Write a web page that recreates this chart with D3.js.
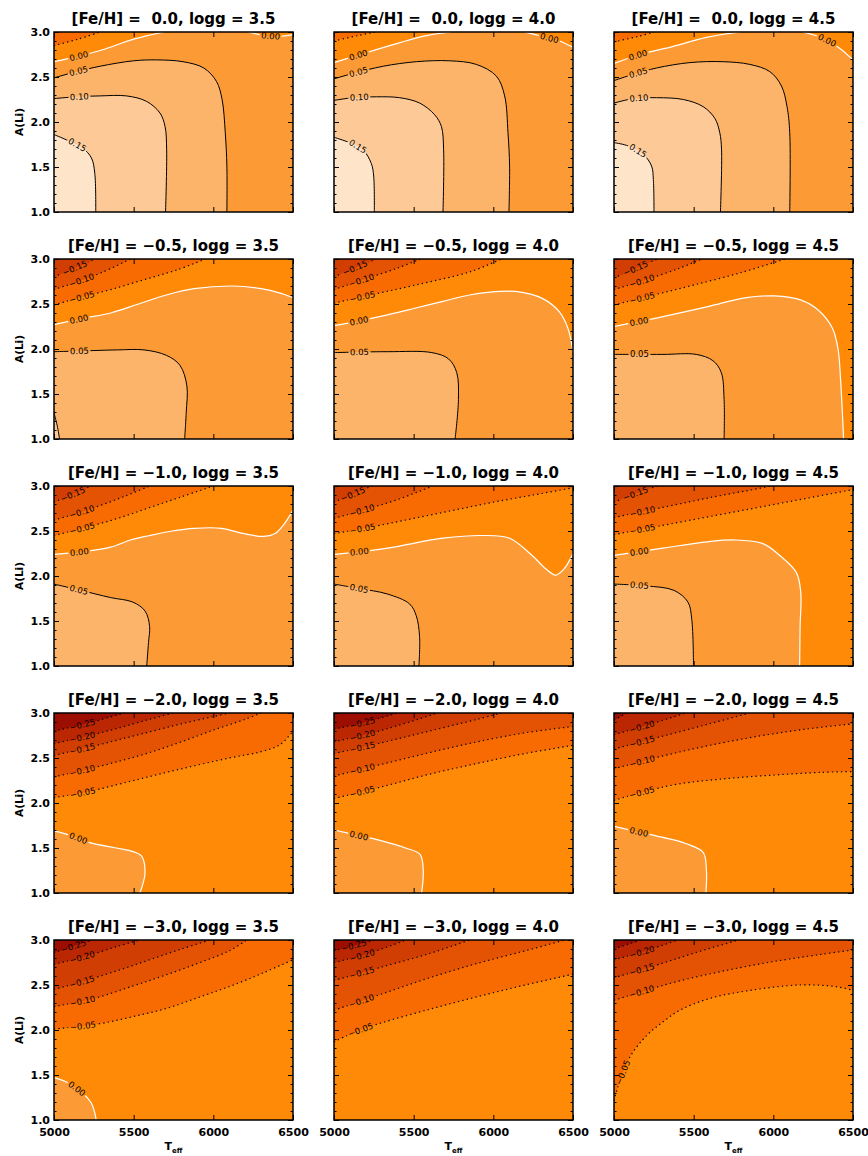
<!DOCTYPE html>
<html>
<head>
<meta charset="utf-8">
<script src="https://cdn.jsdelivr.net/npm/d3@7"></script>
<style>
  body { margin: 0; background: #fff; }
  svg { display: block; }
  text { font-family: "DejaVu Sans", sans-serif; fill: #000; }
</style>
</head>
<body>
<svg id="chart" width="868" height="1156"></svg>
<script>
// ---- grid of models ----
const fehValues  = [0.0, -0.5, -1.0, -2.0, -3.0];
const loggValues = [3.5, 4.0, 4.5];

// ---- axes ----
const teffTicks = [5000, 5500, 6000, 6500];
const aliTicks  = [1.0, 1.5, 2.0, 2.5, 3.0];
const aliMinorTicks = [1.1, 1.2, 1.3, 1.4, 1.6, 1.7, 1.8, 1.9, 2.1, 2.2, 2.3, 2.4, 2.6, 2.7, 2.8, 2.9];

// ---- filled contour bands (lower bound of each band) and colours ----
const bandLower  = [-0.30, -0.25, -0.20, -0.15, -0.10, -0.05, 0.00, 0.05, 0.10, 0.15];
const bandColors = ['#9c0d02', '#bb2603', '#d13e03', '#e35303', '#f76b02', '#fe8a08', '#fc9b36', '#fcb46b', '#fdca97', '#fee4c9'];

// band containing the (Teff = 6500, A(Li) = 1.0) corner of each panel, rows = [Fe/H], cols = logg
const cornerBand = [
  [0.00, 0.00, 0.00],
  [0.00, 0.00, -0.05],
  [0.00, 0.00, -0.05],
  [-0.05, -0.05, -0.05],
  [-0.05, -0.05, -0.05]
];

// ---- contour lines: level and [Teff, A(Li)] vertices ----
const lines_feh00_g35 = [
  { lev: -0.05, lab: false, pts: [[5000, 2.85], [5150, 2.92], [5290, 3.0]] },
  { lev: 0.00, pts: [[5000, 2.67], [5150, 2.73], [5300, 2.80], [5500, 2.92], [5690, 3.0]] },
  { lev: 0.00, pts: [[6220, 3.0], [6330, 2.96], [6430, 2.955], [6500, 2.97]] },
  { lev: 0.05, pts: [[5000, 2.49], [5120, 2.55], [5290, 2.62], [5500, 2.68], [5645, 2.69], [5810, 2.67], [5940, 2.60], [6020, 2.45], [6055, 2.25], [6075, 1.88], [6085, 1.51], [6085, 1.0]] },
  { lev: 0.10, pts: [[5000, 2.26], [5140, 2.28], [5290, 2.29], [5455, 2.29], [5580, 2.23], [5665, 2.10], [5697, 1.95], [5707, 1.69], [5700, 1.0]] },
  { lev: 0.15, pts: [[5000, 1.86], [5080, 1.80], [5180, 1.71], [5235, 1.60], [5256, 1.43], [5262, 1.0]] }
];
const lines_feh00_g40 = [
  { lev: -0.05, lab: false, pts: [[5000, 2.90], [5150, 2.96], [5260, 3.0]] },
  { lev: 0.00, pts: [[5000, 2.66], [5200, 2.77], [5410, 2.88], [5580, 2.96], [5736, 3.0]] },
  { lev: 0.00, pts: [[6197, 3.0], [6310, 2.95], [6416, 2.90], [6500, 2.83]] },
  { lev: 0.05, pts: [[5000, 2.48], [5120, 2.54], [5310, 2.62], [5517, 2.67], [5726, 2.68], [5893, 2.64], [6019, 2.51], [6071, 2.29], [6092, 1.88], [6102, 1.51], [6098, 1.0]] },
  { lev: 0.10, pts: [[5000, 2.24], [5120, 2.27], [5266, 2.28], [5412, 2.27], [5538, 2.21], [5632, 2.08], [5674, 1.95], [5688, 1.69], [5684, 1.0]] },
  { lev: 0.15, pts: [[5000, 1.83], [5098, 1.77], [5182, 1.69], [5234, 1.54], [5249, 1.40], [5253, 1.0]] }
];
const lines_feh00_g45 = [
  { lev: -0.05, lab: false, pts: [[5000, 2.89], [5150, 2.95], [5250, 3.0]] },
  { lev: 0.00, pts: [[5000, 2.65], [5163, 2.75], [5372, 2.84], [5581, 2.94], [5790, 3.0]] },
  { lev: 0.00, pts: [[6187, 3.0], [6312, 2.93], [6416, 2.82], [6500, 2.69]] },
  { lev: 0.05, pts: [[5000, 2.46], [5121, 2.53], [5267, 2.60], [5476, 2.66], [5685, 2.67], [5852, 2.64], [5978, 2.56], [6051, 2.40], [6086, 2.17], [6103, 1.88], [6103, 1.0]] },
  { lev: 0.10, pts: [[5000, 2.21], [5121, 2.26], [5267, 2.27], [5435, 2.25], [5560, 2.17], [5633, 2.04], [5664, 1.88], [5675, 1.69], [5668, 1.0]] },
  { lev: 0.15, pts: [[5000, 1.77], [5079, 1.74], [5184, 1.64], [5236, 1.51], [5247, 1.36], [5251, 1.0]] }
];

const lines_feh05_g35 = [
  { lev: -0.15, pts: [[5000, 2.80], [5130, 2.90], [5260, 3.0]] },
  { lev: -0.10, pts: [[5000, 2.66], [5150, 2.75], [5300, 2.85], [5480, 3.0]] },
  { lev: -0.05, pts: [[5000, 2.49], [5180, 2.58], [5356, 2.66], [5565, 2.77], [5774, 2.88], [5950, 3.0]] },
  { lev: 0.00, pts: [[5000, 2.27], [5180, 2.34], [5356, 2.40], [5530, 2.50], [5705, 2.60], [5880, 2.67], [6120, 2.70], [6300, 2.67], [6420, 2.62], [6500, 2.57]] },
  { lev: 0.05, pts: [[5000, 1.97], [5200, 1.98], [5400, 1.99], [5565, 1.99], [5705, 1.93], [5790, 1.82], [5834, 1.59], [5830, 1.30], [5820, 1.0]] },
  { lev: 0.10, lab: false, pts: [[5000, 1.29], [5020, 1.15], [5035, 1.0]] }
];
const lines_feh05_g40 = [
  { lev: -0.15, pts: [[5000, 2.80], [5130, 2.90], [5265, 3.0]] },
  { lev: -0.10, pts: [[5000, 2.66], [5200, 2.78], [5400, 2.90], [5544, 3.0]] },
  { lev: -0.05, pts: [[5000, 2.51], [5230, 2.60], [5509, 2.71], [5858, 2.86], [6050, 3.0]] },
  { lev: 0.00, pts: [[5000, 2.26], [5150, 2.31], [5335, 2.38], [5500, 2.45], [5684, 2.53], [5850, 2.60], [5963, 2.63], [6140, 2.64], [6310, 2.56], [6416, 2.41], [6468, 2.23], [6500, 1.97]] },
  { lev: 0.05, pts: [[5000, 1.96], [5335, 1.97], [5614, 1.96], [5719, 1.89], [5770, 1.74], [5781, 1.44], [5760, 1.0]] }
];
const lines_feh05_g45 = [
  { lev: -0.15, pts: [[5000, 2.79], [5140, 2.90], [5272, 3.0]] },
  { lev: -0.10, pts: [[5000, 2.66], [5200, 2.77], [5400, 2.89], [5551, 3.0]] },
  { lev: -0.05, pts: [[5000, 2.49], [5250, 2.60], [5500, 2.71], [5800, 2.85], [6074, 3.0]] },
  { lev: 0.00, pts: [[5000, 2.25], [5307, 2.36], [5586, 2.47], [5830, 2.57], [6004, 2.59], [6179, 2.54], [6283, 2.43], [6371, 2.23], [6406, 2.00], [6423, 1.63], [6441, 1.0]] },
  { lev: 0.05, pts: [[5000, 1.94], [5307, 1.94], [5516, 1.94], [5621, 1.87], [5673, 1.74], [5691, 1.44], [5691, 1.0]] }
];

const lines_feh10_g35 = [
  { lev: -0.15, pts: [[5000, 2.82], [5120, 2.91], [5234, 3.0]] },
  { lev: -0.10, pts: [[5000, 2.62], [5150, 2.70], [5300, 2.79], [5450, 2.89], [5600, 3.0]] },
  { lev: -0.05, pts: [[5000, 2.45], [5200, 2.54], [5400, 2.64], [5600, 2.76], [5800, 2.88], [6000, 3.0]] },
  { lev: 0.00, pts: [[5000, 2.24], [5180, 2.27], [5356, 2.32], [5480, 2.40], [5600, 2.45], [5740, 2.50], [5879, 2.53], [6053, 2.53], [6193, 2.47], [6315, 2.44], [6385, 2.47], [6437, 2.56], [6500, 2.73]] },
  { lev: 0.05, pts: [[5000, 1.91], [5146, 1.85], [5356, 1.76], [5495, 1.71], [5572, 1.61], [5600, 1.44], [5593, 1.26], [5582, 1.0]] }
];
const lines_feh10_g40 = [
  { lev: -0.15, pts: [[5000, 2.82], [5120, 2.91], [5237, 3.0]] },
  { lev: -0.10, pts: [[5000, 2.64], [5200, 2.74], [5400, 2.85], [5620, 3.0]] },
  { lev: -0.05, pts: [[5000, 2.47], [5250, 2.55], [5500, 2.64], [5750, 2.73], [6000, 2.82], [6250, 2.90], [6500, 2.98]] },
  { lev: 0.00, pts: [[5000, 2.24], [5335, 2.31], [5684, 2.42], [5928, 2.45], [6102, 2.42], [6242, 2.23], [6329, 2.08], [6390, 2.01], [6444, 2.08], [6500, 2.25]] },
  { lev: 0.05, pts: [[5000, 1.91], [5160, 1.86], [5335, 1.80], [5474, 1.69], [5516, 1.56], [5537, 1.33], [5533, 1.0]] }
];
const lines_feh10_g45 = [
  { lev: -0.15, pts: [[5000, 2.82], [5140, 2.92], [5272, 3.0]] },
  { lev: -0.10, pts: [[5000, 2.65], [5300, 2.76], [5600, 2.87], [5900, 2.97], [5980, 3.0]] },
  { lev: -0.05, pts: [[5000, 2.46], [5300, 2.56], [5600, 2.66], [5900, 2.76], [6200, 2.86], [6500, 2.96]] },
  { lev: 0.00, pts: [[5000, 2.23], [5307, 2.31], [5586, 2.38], [5760, 2.40], [5935, 2.36], [6039, 2.23], [6144, 2.04], [6172, 1.82], [6168, 1.44], [6165, 1.0]] },
  { lev: 0.05, pts: [[5000, 1.91], [5202, 1.89], [5377, 1.84], [5464, 1.71], [5488, 1.52], [5499, 1.0]] }
];

const lines_feh20_g35 = [
  { lev: -0.25, pts: [[5000, 2.80], [5200, 2.88], [5400, 2.98], [5440, 3.0]] },
  { lev: -0.20, pts: [[5000, 2.66], [5200, 2.74], [5400, 2.83], [5600, 2.93], [5750, 3.0]] },
  { lev: -0.15, pts: [[5000, 2.53], [5200, 2.61], [5400, 2.70], [5600, 2.79], [5800, 2.88], [6000, 2.96], [6100, 3.0]] },
  { lev: -0.10, pts: [[5000, 2.29], [5200, 2.37], [5400, 2.46], [5600, 2.56], [5800, 2.68], [6000, 2.81], [6200, 2.93], [6300, 3.0]] },
  { lev: -0.05, pts: [[5000, 2.06], [5200, 2.12], [5500, 2.25], [5800, 2.38], [6100, 2.50], [6300, 2.57], [6420, 2.65], [6500, 2.80]] },
  { lev: 0.00, pts: [[5000, 1.69], [5120, 1.63], [5224, 1.56], [5392, 1.50], [5497, 1.46], [5550, 1.41], [5571, 1.22], [5539, 1.0]] }
];
const lines_feh20_g40 = [
  { lev: -0.25, pts: [[5000, 2.82], [5200, 2.90], [5400, 3.0]] },
  { lev: -0.20, pts: [[5000, 2.68], [5200, 2.76], [5400, 2.86], [5650, 3.0]] },
  { lev: -0.15, pts: [[5000, 2.55], [5300, 2.67], [5600, 2.80], [5900, 2.93], [6050, 3.0]] },
  { lev: -0.10, pts: [[5000, 2.30], [5300, 2.43], [5600, 2.56], [5900, 2.68], [6200, 2.78], [6500, 2.85]] },
  { lev: -0.05, pts: [[5000, 2.05], [5300, 2.18], [5600, 2.32], [5900, 2.44], [6200, 2.55], [6500, 2.64]] },
  { lev: 0.00, pts: [[5000, 1.70], [5150, 1.64], [5300, 1.58], [5450, 1.50], [5540, 1.43], [5560, 1.25], [5550, 1.0]] }
];
const lines_feh20_g45 = [
  { lev: -0.25, lab: false, pts: [[5000, 2.92], [5080, 3.0]] },
  { lev: -0.20, pts: [[5000, 2.76], [5200, 2.86], [5450, 3.0]] },
  { lev: -0.15, pts: [[5000, 2.60], [5300, 2.74], [5600, 2.88], [5850, 3.0]] },
  { lev: -0.10, pts: [[5000, 2.38], [5300, 2.52], [5600, 2.64], [5900, 2.74], [6200, 2.82], [6500, 2.88]] },
  { lev: -0.05, pts: [[5000, 2.03], [5200, 2.13], [5400, 2.21], [5700, 2.27], [6000, 2.31], [6300, 2.34], [6500, 2.35]] },
  { lev: 0.00, pts: [[5000, 1.74], [5150, 1.68], [5300, 1.62], [5450, 1.55], [5560, 1.45], [5580, 1.25], [5577, 1.0]] }
];

const lines_feh30_g35 = [
  { lev: -0.25, pts: [[5000, 2.86], [5120, 2.93], [5245, 3.0]] },
  { lev: -0.20, pts: [[5000, 2.73], [5200, 2.82], [5400, 2.93], [5540, 3.0]] },
  { lev: -0.15, pts: [[5000, 2.45], [5200, 2.55], [5400, 2.66], [5600, 2.78], [5800, 2.90], [5980, 3.0]] },
  { lev: -0.10, pts: [[5000, 2.26], [5250, 2.35], [5497, 2.49], [5700, 2.61], [5917, 2.75], [6100, 2.88], [6210, 3.0]] },
  { lev: -0.05, pts: [[5000, 2.01], [5287, 2.07], [5500, 2.15], [5707, 2.24], [5920, 2.37], [6127, 2.50], [6320, 2.64], [6500, 2.78]] },
  { lev: 0.00, pts: [[5000, 1.47], [5100, 1.40], [5230, 1.20], [5265, 1.0]] }
];
const lines_feh30_g40 = [
  { lev: -0.25, pts: [[5000, 2.88], [5150, 2.95], [5250, 3.0]] },
  { lev: -0.20, pts: [[5000, 2.75], [5200, 2.84], [5450, 3.0]] },
  { lev: -0.15, pts: [[5000, 2.55], [5300, 2.70], [5600, 2.85], [5850, 3.0]] },
  { lev: -0.10, pts: [[5000, 2.22], [5300, 2.40], [5600, 2.58], [5900, 2.74], [6200, 2.88], [6450, 3.0]] },
  { lev: -0.05, pts: [[5000, 1.87], [5150, 1.99], [5300, 2.08], [5600, 2.23], [5900, 2.37], [6200, 2.50], [6500, 2.62]] }
];
const lines_feh30_g45 = [
  { lev: -0.25, lab: false, pts: [[5000, 2.90], [5100, 2.96], [5170, 3.0]] },
  { lev: -0.20, pts: [[5000, 2.78], [5200, 2.88], [5400, 3.0]] },
  { lev: -0.15, pts: [[5000, 2.58], [5300, 2.74], [5550, 2.88], [5780, 3.0]] },
  { lev: -0.10, pts: [[5000, 2.33], [5200, 2.44], [5400, 2.54], [5700, 2.66], [6000, 2.76], [6300, 2.84], [6500, 2.89]] },
  { lev: -0.05, pts: [[5000, 1.22], [5040, 1.45], [5100, 1.70], [5200, 1.93], [5300, 2.08], [5414, 2.22], [5600, 2.35], [5854, 2.44], [6168, 2.50], [6400, 2.48], [6500, 2.44]] }
];

const contourSets = [
  [lines_feh00_g35, lines_feh00_g40, lines_feh00_g45],
  [lines_feh05_g35, lines_feh05_g40, lines_feh05_g45],
  [lines_feh10_g35, lines_feh10_g40, lines_feh10_g45],
  [lines_feh20_g35, lines_feh20_g40, lines_feh20_g45],
  [lines_feh30_g35, lines_feh30_g40, lines_feh30_g45]
];

// ---- layout ----
const PW = 239, PH = 180;
const colLeft = [54, 334, 614];
const rowTop = [32, 259, 486, 713, 940];

const svg = d3.select('#chart');
svg.append('rect').attr('width', 868).attr('height', 1156).attr('fill', '#fff');

const x = d3.scaleLinear().domain([5000, 6500]).range([0, PW]);
const y = d3.scaleLinear().domain([1.0, 3.0]).range([PH, 0]);
const lineGen = d3.line().x(d => x(d[0])).y(d => y(d[1])).curve(d3.curveCatmullRom.alpha(0.5));

function bandColor(lo) {
  const i = Math.round((lo - bandLower[0]) / 0.05);
  return bandColors[Math.max(0, Math.min(bandColors.length - 1, i))];
}

// position of a boundary point along the frame, clockwise from the top-left corner (0..4)
function perim(px, py) {
  const e = 0.6;
  if (Math.abs(py) < e) return px / PW;
  if (Math.abs(px - PW) < e) return 1 + py / PH;
  if (Math.abs(py - PH) < e) return 2 + (PW - px) / PW;
  return 3 + (PH - py) / PH;
}
const frameCorners = { 1: [PW, 0], 2: [PW, PH], 3: [0, PH], 4: [0, 0] };
const mod4 = v => ((v % 4) + 4) % 4;

// frame corners that close a contour on the side away from the bottom-right corner
function closingCorners(sS, sE) {
  const fl = mod4(sS - sE);
  const fwd = [1, 2, 3, 4].filter(k => { const d = mod4(k - sE); return d > 1e-6 && d < fl; })
    .sort((a, b) => mod4(a - sE) - mod4(b - sE));
  if (!fwd.includes(2)) return fwd.map(k => frameCorners[k]);
  const bl = mod4(sE - sS);
  return [1, 2, 3, 4].filter(k => { const d = mod4(sE - k); return d > 1e-6 && d < bl; })
    .sort((a, b) => mod4(sE - a) - mod4(sE - b)).map(k => frameCorners[k]);
}

const fmtLev = v => (v < 0 ? '\u2212' : '') + Math.abs(v).toFixed(2);
const fmtFeh = v => (v < 0 ? '\u2212' : ' ') + Math.abs(v).toFixed(1);

fehValues.forEach((feh, r) => {
  loggValues.forEach((logg, c) => {
    const id = `p${r}${c}`;
    const lines = contourSets[r][c];
    const base = cornerBand[r][c];
    const mid = base + 0.025;
    const g = svg.append('g').attr('transform', `translate(${colLeft[c]},${rowTop[r]})`);

    const defs = g.append('defs');
    defs.append('clipPath').attr('id', `clip-${id}`)
      .append('rect').attr('width', PW).attr('height', PH);
    const mask = defs.append('mask').attr('id', `mask-${id}`).attr('maskUnits', 'userSpaceOnUse')
      .attr('x', -5).attr('y', -5).attr('width', PW + 10).attr('height', PH + 10);
    mask.append('rect').attr('x', -5).attr('y', -5).attr('width', PW + 10).attr('height', PH + 10).attr('fill', '#fff');

    // filled bands
    const fills = g.append('g').attr('clip-path', `url(#clip-${id})`);
    fills.append('rect').attr('width', PW).attr('height', PH).attr('fill', bandColor(base));
    lines.slice().sort((a, b) => Math.abs(a.lev - mid) - Math.abs(b.lev - mid)).forEach(ln => {
      const p0 = ln.pts[0], p1 = ln.pts[ln.pts.length - 1];
      const sS = perim(x(p0[0]), y(p0[1])), sE = perim(x(p1[0]), y(p1[1]));
      const cs = closingCorners(sS, sE);
      const d = lineGen(ln.pts) + cs.map(q => `L${q[0]},${q[1]}`).join('') + 'Z';
      const lo = ln.lev > mid ? ln.lev : ln.lev - 0.05;
      fills.append('path').attr('d', d).attr('fill', bandColor(lo));
    });

    // contour lines
    const lg = g.append('g').attr('clip-path', `url(#clip-${id})`)
      .append('g').attr('mask', `url(#mask-${id})`);
    const labels = g.append('g');
    lines.forEach(ln => {
      const path = lg.append('path').attr('d', lineGen(ln.pts)).attr('fill', 'none');
      if (ln.lev < -1e-9) {
        path.attr('stroke', '#000').attr('stroke-width', 1.2).attr('stroke-dasharray', '1.3 3.2');
      } else if (Math.abs(ln.lev) < 1e-9) {
        path.attr('stroke', '#fff').attr('stroke-width', 1.2);
      } else {
        path.attr('stroke', '#000').attr('stroke-width', 1);
      }
      if (ln.lab === false) return;
      const node = path.node();
      const L = node.getTotalLength();
      const t = labels.append('text').text(fmtLev(ln.lev))
        .attr('font-size', 8.5).attr('text-anchor', 'middle').attr('dy', '0.35em');
      const w = t.node().getComputedTextLength();
      const sc = Math.min(16 + w / 2, L / 2);
      const pc = node.getPointAtLength(sc);
      const pa = node.getPointAtLength(Math.max(0, sc - w / 2));
      const pb = node.getPointAtLength(Math.min(L, sc + w / 2));
      let ang = Math.atan2(pb.y - pa.y, pb.x - pa.x) * 180 / Math.PI;
      if (ang > 90) ang -= 180;
      if (ang < -90) ang += 180;
      const tr = `translate(${pc.x},${pc.y}) rotate(${ang})`;
      t.attr('transform', tr);
      mask.append('rect').attr('x', -w / 2 - 1.5).attr('y', -3.5).attr('width', w + 3).attr('height', 7)
        .attr('fill', '#000').attr('transform', tr);
    });

    // axes with inward ticks on all four sides
    const lastRow = r === fehValues.length - 1, firstCol = c === 0;
    const ax = g.append('g').attr('class', 'axes');
    ax.append('g').attr('transform', `translate(0,${PH})`)
      .call(d3.axisBottom(x).tickValues(teffTicks).tickSize(-5).tickSizeOuter(0).tickPadding(8)
        .tickFormat(lastRow ? d3.format('d') : () => ''));
    ax.append('g').call(d3.axisTop(x).tickValues(teffTicks).tickSize(-5).tickSizeOuter(0).tickFormat(() => ''));
    ax.append('g')
      .call(d3.axisLeft(y).tickValues(aliTicks).tickSize(-5).tickSizeOuter(0).tickPadding(4)
        .tickFormat(firstCol ? d3.format('.1f') : () => ''));
    ax.append('g').call(d3.axisLeft(y).tickValues(aliMinorTicks).tickSize(-2.5).tickSizeOuter(0).tickFormat(() => ''));
    ax.append('g').attr('transform', `translate(${PW},0)`)
      .call(d3.axisRight(y).tickValues(aliTicks).tickSize(-5).tickSizeOuter(0).tickFormat(() => ''));
    ax.append('g').attr('transform', `translate(${PW},0)`)
      .call(d3.axisRight(y).tickValues(aliMinorTicks).tickSize(-2.5).tickSizeOuter(0).tickFormat(() => ''));
    ax.selectAll('.domain').remove();
    ax.selectAll('.tick line').attr('stroke', '#000').attr('stroke-width', 1);
    ax.selectAll('.tick text').attr('font-family', '"DejaVu Sans", sans-serif')
      .attr('font-size', 11).attr('font-weight', 'bold').attr('fill', '#000');
    g.append('rect').attr('width', PW).attr('height', PH)
      .attr('fill', 'none').attr('stroke', '#000').attr('stroke-width', 1.5);

    // panel title
    g.append('text').attr('x', PW / 2).attr('y', -8).attr('text-anchor', 'middle')
      .attr('font-size', 15).attr('font-weight', 'bold').style('white-space', 'pre')
      .text(`[Fe/H] = ${fmtFeh(feh)}, logg = ${logg.toFixed(1)}`);

    if (firstCol) {
      g.append('text').attr('transform', `translate(-31,${PH / 2}) rotate(-90)`)
        .attr('text-anchor', 'middle').attr('font-size', 10.5).attr('font-weight', 'bold')
        .text('A(Li)');
    }
    if (lastRow) {
      const tt = g.append('text').attr('x', PW / 2).attr('y', PH + 30).attr('text-anchor', 'middle')
        .attr('font-size', 11).attr('font-weight', 'bold');
      tt.append('tspan').text('T');
      tt.append('tspan').attr('font-size', 7).attr('dy', 2.5).text('eff');
    }
  });
});
</script>
</body>
</html>
